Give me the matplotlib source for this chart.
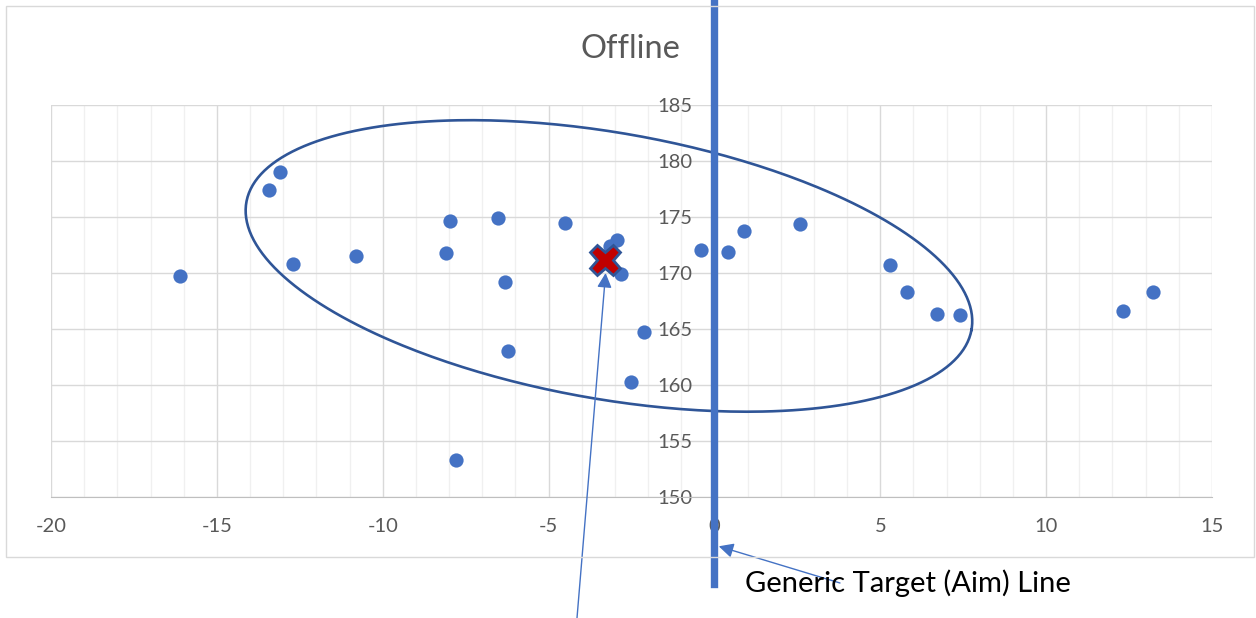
import numpy as np
import matplotlib
matplotlib.use("Agg")
import matplotlib.pyplot as plt
from matplotlib.patches import Rectangle

plt.rcParams['font.family'] = ['Lato', 'DejaVu Sans']
plt.rcParams['axes.unicode_minus'] = False

# shot data (lateral offline vs distance)
offline_x = [-16.11, -13.43, -13.10, -12.70, -10.81, -7.98, -8.09, -6.51, -6.30,
             -6.21, -4.50, -7.80, -3.15, -2.93, -2.82, -2.11, -2.51, -0.40,
             0.41, 0.88, 2.59, 5.29, 5.80, 6.70, 7.40, 12.31, 13.21]
offline_y = [169.7, 177.4, 179.0, 170.8, 171.55, 174.6, 171.8, 174.9, 169.2,
             163.0, 174.45, 153.3, 172.4, 172.95, 169.9, 164.75, 160.25, 172.05,
             171.85, 173.75, 174.4, 170.75, 168.3, 166.35, 166.25, 166.65, 168.3]
mean_x, mean_y = -3.30, 171.15

# dispersion ellipse (centre and two half-axis vectors, data units)
ell_center = (-3.18, 170.63)
ell_u = (10.93, -5.70)
ell_v = (-0.70, -11.70)

xticks = [-20, -15, -10, -5, 0, 5, 10, 15]
yticks = [150, 155, 160, 165, 170, 175, 180, 185]

blue = '#4472C4'
dark = '#2F5597'
grey_txt = '#595959'

fig = plt.figure(figsize=(12.56, 6.18), dpi=100)
ax = fig.add_axes([51/1256, 1-497/618, 1161/1256, 392/618])

# chart frame
fig.patches.append(Rectangle((6/1256, 1-557/618), 1248/1256, 551/618,
                             transform=fig.transFigure, fill=False,
                             edgecolor='#D9D9D9', linewidth=1))

ax.set_xlim(-20, 15)
ax.set_ylim(150, 185)
ax.set_xticks(xticks)
ax.set_yticks(yticks)
ax.set_xticks(np.arange(-20, 16, 1), minor=True)
ax.grid(which='major', color='#D9D9D9', linewidth=1.0)
ax.grid(which='minor', axis='x', color='#F0F0F0', linewidth=1.0)
ax.set_axisbelow(True)

for s in ['top', 'right']:
    ax.spines[s].set_visible(False)
ax.spines['bottom'].set_color('#BFBFBF')
ax.spines['left'].set_position(('data', 0))
ax.spines['left'].set_visible(False)
ax.tick_params(which='both', length=0)
ax.tick_params(axis='x', pad=15, labelsize=14.5, labelcolor=grey_txt)
ax.tick_params(axis='y', pad=16, labelsize=14.5, labelcolor=grey_txt)

ax.scatter(offline_x, offline_y, s=105, color=blue, zorder=3, linewidths=0)

t = np.linspace(0, 2*np.pi, 400)
ex = ell_center[0] + np.cos(t)*ell_u[0] + np.sin(t)*ell_v[0]
ey = ell_center[1] + np.cos(t)*ell_u[1] + np.sin(t)*ell_v[1]
ax.plot(ex, ey, color=dark, linewidth=1.9, zorder=4)

ax.plot(mean_x, mean_y, marker='X', markersize=22, markerfacecolor='#C00000',
        markeredgecolor=dark, markeredgewidth=2, zorder=6)

# generic target (aim) line
ax.axvline(0, ymin=-0.222, ymax=1.268, color=blue, linewidth=5.3,
           clip_on=False, zorder=7)

ax.annotate('', xy=(-3.28, 170.0), xycoords='data',
            xytext=(577/1256, 0), textcoords='figure fraction',
            arrowprops=dict(arrowstyle='-|>', color=blue, lw=1,
                            mutation_scale=22, shrinkA=0, shrinkB=0),
            annotation_clip=False, zorder=8)

fig.text(745/1256, 1-583/618, 'Generic Target (Aim) Line', fontsize=21,
         color='black', ha='left', va='center')
ax.annotate('', xy=(0.13, 145.6), xycoords='data',
            xytext=(840/1256, 1-583/618), textcoords='figure fraction',
            arrowprops=dict(arrowstyle='-|>', color=blue, lw=1,
                            mutation_scale=22, shrinkA=0, shrinkB=0),
            annotation_clip=False, zorder=8)

fig.text(630/1256, 1-49/618, 'Offline', fontsize=23.5, color=grey_txt,
         ha='center', va='center')

fig.savefig('out.png', dpi=100)
